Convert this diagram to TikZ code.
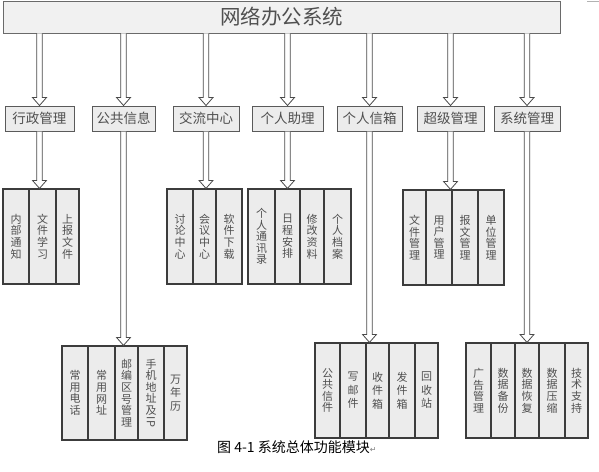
\documentclass[tikz,border=0pt]{standalone}
\usepackage{fontspec}
\usepackage{graphicx}
\usetikzlibrary{calc}
\newfontfamily\cjk{Noto Sans CJK SC}
\newfontfamily\dejavu{DejaVu Sans}
\definecolor{boxfill}{HTML}{ECECEC}
\definecolor{topfill}{HTML}{F1F1F1}
\definecolor{topline}{HTML}{6A6A6A}
\definecolor{catline}{HTML}{5A5A5A}
\definecolor{colline}{HTML}{3C3C3C}
\definecolor{arrline}{HTML}{4A4A4A}
\definecolor{txtgray}{HTML}{505050}
\tikzset{
  topbox/.style={draw=topline, fill=topfill, line width=0.9pt, inner sep=0pt, text=txtgray, font=\cjk\fontsize{20.5}{22}\selectfont},
  catbox/.style={draw=catline, fill=boxfill, line width=1pt, inner sep=0pt, minimum height=25pt, text=txtgray, font=\cjk\fontsize{13.5}{15}\selectfont},
  colbox/.style={draw=colline, fill=boxfill, line width=1.2pt, inner sep=0pt, align=center, text=txtgray, font=\cjk\fontsize{11}{11.6}\selectfont},
  widecol/.style={font=\cjk\fontsize{11}{13.5}\selectfont},
  harrow/.style={draw=arrline, fill=white, line width=0.8pt, line join=miter},
  captxt/.style={inner sep=0pt, anchor=west, text=black, font=\cjk\fontsize{14}{16}\selectfont}
}
\newcommand\colnode[7][]{\node[colbox,#1, minimum width={#4-#3}, minimum height={#6-#5}] (#2) at ({(#3+#4)/2},{(#5+#6)/2}) {#7};}
\newcommand\harr[2]{\draw[harrow] let \p1=(#1), \p2=(#2) in (\x2-2.75pt,\y1) -- (\x2-2.75pt,\y2+8pt) -- (\x2-7pt,\y2+8pt) -- (\x2,\y2) -- (\x2+7pt,\y2+8pt) -- (\x2+2.75pt,\y2+8pt) -- (\x2+2.75pt,\y1);}
\begin{document}
\begin{tikzpicture}[x=1pt,y=-1pt]
\fill[white] (0,0) rectangle (599,471);
\useasboundingbox (0,0) rectangle (599,471);
\draw[gray!60, line width=0.8pt] (587,1.5) -- (599,1.5);
% top
\node[topbox, minimum width=557pt, minimum height=32pt] (top) at (281.5,17) {网络办公系统};
% categories
\node[catbox, minimum width=69pt] (c1) at (39.5,118.5) {行政管理};
\node[catbox, minimum width=63pt] (c2) at (123.5,118.5) {公共信息};
\node[catbox, minimum width=66pt] (c3) at (206,118.5) {交流中心};
\node[catbox, minimum width=71pt] (c4) at (287.5,118.5) {个人助理};
\node[catbox, minimum width=65pt] (c5) at (369.5,118.5) {个人信箱};
\node[catbox, minimum width=67pt] (c6) at (450.5,118.5) {超级管理};
\node[catbox, minimum width=66pt] (c7) at (527,118.5) {系统管理};
% group A
\colnode{a1}{3}{29}{189}{284}{内\\部\\通\\知}
\colnode{a2}{29}{56}{189}{284}{文\\件\\学\\习}
\colnode{a3}{56}{79}{189}{284}{上\\报\\文\\件}
% group B
\colnode{b1}{62}{88}{346}{440}{常\\用\\电\\话}
\colnode{b2}{88}{115}{346}{440}{常\\用\\网\\址}
\colnode{b3}{115}{138}{346}{440}{邮\\编\\区\\号\\管\\理}
\colnode{b4}{138}{164}{346}{440}{手\\机\\地\\址\\及\\\rotatebox[origin=c]{-90}{IP}}
\colnode[widecol]{b5}{164}{187}{346}{440}{万\\年\\历}
% group C
\colnode{d1}{167}{193}{189}{284}{讨\\论\\中\\心}
\colnode{d2}{193}{216}{189}{284}{会\\议\\中\\心}
\colnode{d3}{216}{242}{189}{284}{软\\件\\下\\载}
% group D
\colnode{e1}{248}{275}{189}{284}{个\\人\\通\\讯\\录}
\colnode{e2}{275}{300}{189}{284}{日\\程\\安\\排}
\colnode{e3}{300}{324}{189}{284}{修\\改\\资\\料}
\colnode{e4}{324}{351}{189}{284}{个\\人\\档\\案}
% group E
\colnode{f1}{315}{340}{343}{438}{公\\共\\信\\件}
\colnode[widecol]{f2}{340}{366}{343}{438}{写\\邮\\件}
\colnode[widecol]{f3}{366}{389}{343}{438}{收\\件\\箱}
\colnode[widecol]{f4}{389}{415}{343}{438}{发\\件\\箱}
\colnode[widecol]{f5}{415}{438}{343}{438}{回\\收\\站}
% group F
\colnode{g1}{403}{426}{190}{285}{文\\件\\管\\理}
\colnode{g2}{426}{452}{190}{285}{用\\户\\管\\理}
\colnode{g3}{452}{478}{190}{285}{报\\文\\管\\理}
\colnode{g4}{478}{504}{190}{285}{单\\位\\管\\理}
% group G
\colnode{h1}{466}{491}{343}{438}{广\\告\\管\\理}
\colnode{h2}{491}{515}{343}{438}{数\\据\\备\\份}
\colnode{h3}{515}{539}{343}{438}{数\\据\\恢\\复}
\colnode{h4}{539}{565}{343}{438}{数\\据\\压\\缩}
\colnode{h5}{565}{588}{343}{438}{技\\术\\支\\持}
% arrows top -> categories
\foreach \c in {c1,c2,c3,c4,c5,c6,c7}{\harr{top.south}{\c.north}}
% arrows categories -> groups
\harr{c1.south}{c1.south |- a1.north}
\harr{c2.south}{c2.south |- b1.north}
\harr{c3.south}{c3.south |- d1.north}
\harr{c4.south}{c4.south |- e1.north}
\harr{c5.south}{c5.south |- f1.north}
\harr{c6.south}{c6.south |- g1.north}
\harr{c7.south}{c7.south |- h1.north}
% caption
\node[captxt] (cap) at (217,447) {图 4-1 系统总体功能模块{\dejavu\fontsize{8}{9}\selectfont\color{gray}↵}};
\end{tikzpicture}
\end{document}
